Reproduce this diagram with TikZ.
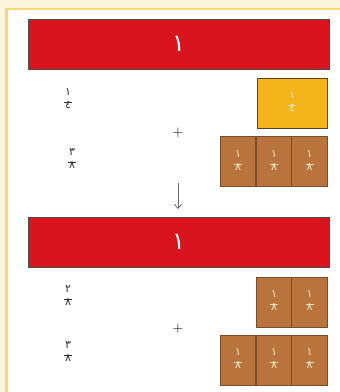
\documentclass[tikz,border=0pt]{standalone}
\usepackage{fontspec}
\newfontfamily\arabicfont[Script=Arabic]{DejaVu Sans}
\usetikzlibrary{arrows.meta}
\definecolor{cream}{HTML}{FDF6DF}
\definecolor{frameyel}{HTML}{F6D873}
\definecolor{barred}{HTML}{D8151F}
\definecolor{quartyel}{HTML}{F4B51C}
\definecolor{eighth}{HTML}{B8743C}
\definecolor{eighthedge}{HTML}{7A4E2A}
\definecolor{pale}{HTML}{F7E6C6}
\newcommand\afrac[3]{{\color{#3}\arabicfont\begin{tabular}{@{}c@{}}#1\\[-4pt]\rule{8pt}{0.7pt}\\[-5pt]#2\end{tabular}}}
\tikzset{
  whole/.style={draw=black!70, line width=0.8pt, fill=barred, minimum width=301pt, minimum height=50pt, inner sep=0pt, font=\arabicfont\fontsize{24}{24}\selectfont, text=white},
  quarter/.style={draw=eighthedge!80!black, line width=0.8pt, fill=quartyel, minimum width=70pt, minimum height=50pt, inner sep=0pt, font=\fontsize{11}{11}\selectfont},
  eighthbox/.style={draw=eighthedge, line width=0.8pt, fill=eighth, minimum width=35.7pt, minimum height=50pt, inner sep=0pt, font=\fontsize{11}{11}\selectfont},
  lbl/.style={inner sep=0pt, font=\fontsize{11}{11}\selectfont},
  op/.style={inner sep=0pt, font=\fontsize{15}{15}\selectfont, text=black}
}
\begin{document}
\begin{tikzpicture}[x=1pt,y=-1pt]
\useasboundingbox (0,0) rectangle (340,392);
\fill[cream] (0,0) rectangle (340,392);
\draw[frameyel, line width=2.5pt, fill=white] (6.5,9) -- (345,9) -- (345,400) -- (6.5,400) -- cycle;
% first group
\node[whole] (w1) at (178.5,44) {١};
\node[quarter] (q1) at (292,103) {\afrac{١}{٤}{pale}};
\node[eighthbox] (e1a) at (238,161.5) {\afrac{١}{٨}{pale}};
\node[eighthbox] (e1b) at (274,161.5) {\afrac{١}{٨}{pale}};
\node[eighthbox] (e1c) at (309.5,161.5) {\afrac{١}{٨}{pale}};
\node[lbl] (l1) at (68,100) {\afrac{١}{٤}{black!80}};
\node[lbl] (l2) at (72,160) {\afrac{٣}{٨}{black!80}};
\node[op] (p1) at (178,133) {+};
\coordinate (a1) at (178,183);
\coordinate (a2) at (178,209);
\draw[black!60, line width=0.8pt, -{Straight Barb[length=4pt,width=7pt]}] (a1) -- (a2);
% second group
\node[whole] (w2) at (178.5,242) {١};
\node[eighthbox] (e2a) at (274,302) {\afrac{١}{٨}{pale}};
\node[eighthbox] (e2b) at (309.5,302) {\afrac{١}{٨}{pale}};
\node[eighthbox] (e3a) at (238,360) {\afrac{١}{٨}{pale}};
\node[eighthbox] (e3b) at (274,360) {\afrac{١}{٨}{pale}};
\node[eighthbox] (e3c) at (309.5,360) {\afrac{١}{٨}{pale}};
\node[lbl] (l3) at (68,297) {\afrac{٢}{٨}{black!80}};
\node[lbl] (l4) at (68,353) {\afrac{٣}{٨}{black!80}};
\node[op] (p2) at (178,329) {+};
\end{tikzpicture}
\end{document}
